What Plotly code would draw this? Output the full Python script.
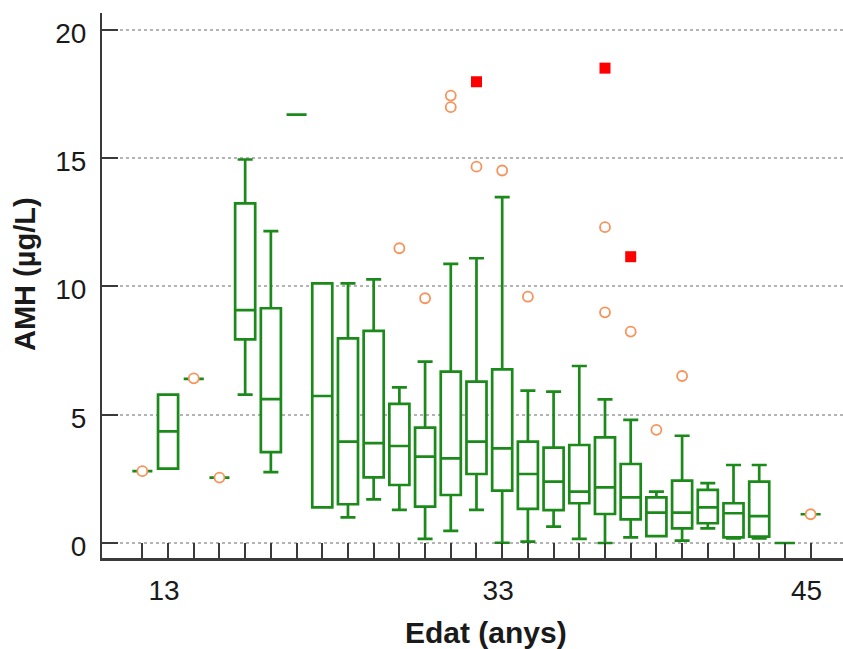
import plotly.graph_objects as go

# Category positions (one per age group) and the tick labels shown
tick_labels = ["", "13", "", "", "", "", "", "", "", "", "", "", "", "", "33",
               "", "", "", "", "", "", "", "", "", "", "", "45"]
positions = list(range(len(tick_labels)))

# Box statistics per age group (AMH, µg/L)
lower_fence = [2.8, 2.9, 6.4, 2.55, 5.78, 2.76, 16.7, 1.39, 1.0, 1.70, 1.29, 0.16, 0.47, 1.29,
               0.01, 0.05, 0.64, 0.16, 0.0, 0.22, 0.27, 0.09, 0.57, 0.18, 0.18, 0.0, 1.12]
q1 = [2.8, 2.9, 6.4, 2.55, 7.94, 3.54, 16.7, 1.39, 1.51, 2.56, 2.26, 1.42, 1.87, 2.69,
      2.04, 1.33, 1.28, 1.55, 1.13, 0.92, 0.27, 0.57, 0.77, 0.22, 0.25, 0.0, 1.12]
median = [2.8, 4.35, 6.4, 2.55, 9.08, 5.61, 16.7, 5.73, 3.95, 3.89, 3.78, 3.37, 3.30, 3.95,
          3.69, 2.69, 2.39, 2.00, 2.17, 1.78, 1.18, 1.18, 1.39, 1.16, 1.05, 0.0, 1.12]
q3 = [2.8, 5.78, 6.4, 2.55, 13.24, 9.15, 16.7, 10.12, 7.98, 8.27, 5.42, 4.50, 6.68, 6.29,
      6.77, 3.95, 3.72, 3.82, 4.12, 3.08, 1.78, 2.43, 2.07, 1.55, 2.39, 0.0, 1.12]
upper_fence = [2.8, 5.78, 6.4, 2.55, 14.95, 12.16, 16.7, 10.12, 10.12, 10.28, 6.07, 7.07, 10.88, 11.10,
               13.48, 5.94, 5.90, 6.90, 5.60, 4.80, 2.00, 4.18, 2.33, 3.04, 3.04, 0.0, 1.12]

# Outside values (orange circles) and far-out values (red squares)
outlier_x = [0, 2, 3, 26, 10, 11, 12, 12, 13, 14, 15, 18, 18, 19, 20, 21]
outlier_y = [2.8, 6.42, 2.55, 1.12, 11.49, 9.54, 17.44, 16.99, 14.67, 14.52, 9.60, 12.31, 8.99, 8.24, 4.41, 6.51]
far_x = [13, 18, 19]
far_y = [17.98, 18.51, 11.16]

GREEN = "#1b8a1b"
ORANGE = "#f7935a"
AXIS = "#3a3a3a"
TEXT = "#1a1a1a"

fig = go.Figure()
fig.add_trace(go.Box(
    x=positions, q1=q1, median=median, q3=q3,
    lowerfence=lower_fence, upperfence=upper_fence,
    boxpoints=False, width=0.78, whiskerwidth=0.75,
    line=dict(color=GREEN, width=2.7), fillcolor="white",
    showlegend=False, hoverinfo="skip",
))
fig.add_trace(go.Scatter(
    x=outlier_x, y=outlier_y, mode="markers",
    marker=dict(symbol="circle", size=10, color="white",
                line=dict(color=ORANGE, width=1.8)),
    showlegend=False, cliponaxis=False, hoverinfo="skip",
))
fig.add_trace(go.Scatter(
    x=far_x, y=far_y, mode="markers",
    marker=dict(symbol="square", size=11, color="#ff0000", line=dict(width=0)),
    showlegend=False, cliponaxis=False, hoverinfo="skip",
))

fig.update_layout(
    width=843, height=649,
    margin=dict(l=102, r=0, t=13, b=91, autoexpand=False),
    paper_bgcolor="white", plot_bgcolor="white",
    font=dict(family="Liberation Sans, Arial, sans-serif", color=TEXT),
    xaxis=dict(
        range=[-1.57, 27.26], tickmode="array", tickvals=positions, ticktext=tick_labels,
        ticks="inside", ticklen=15, tickwidth=2, tickcolor=AXIS,
        showline=True, linecolor=AXIS, linewidth=2.5,
        showgrid=False, zeroline=False, automargin=False,
        tickfont=dict(size=28, color=TEXT), ticklabelshift=-4, ticklabelstandoff=6,
    ),
    yaxis=dict(
        range=[-0.585, 20.66], tickmode="array", tickvals=[0, 5, 10, 15, 20],
        ticks="inside", ticklen=16, tickwidth=2, tickcolor=AXIS,
        showline=True, linecolor=AXIS, linewidth=2,
        showgrid=True, gridcolor="#b3b3b3", gridwidth=1.5, griddash="dot",
        zeroline=False, automargin=False,
        tickfont=dict(size=28, color=TEXT), ticklabelshift=3, ticklabelstandoff=8,
    ),
    annotations=[
        dict(text="<b>AMH (µg/L)</b>", xref="paper", yref="paper",
             x=(25 - 102) / 741, y=(558 - 274) / 545, textangle=-90,
             xanchor="center", yanchor="middle", showarrow=False,
             font=dict(size=29, color=TEXT)),
        dict(text="<b>Edat (anys)</b>", xref="paper", yref="paper",
             x=(486 - 102) / 741, y=(558 - 632) / 545,
             xanchor="center", yanchor="middle", showarrow=False,
             font=dict(size=30, color=TEXT)),
    ],
)

fig.write_html(
    "out.html",
    config={"displayModeBar": False},
    post_script="document.body.style.margin='0';document.body.style.padding='0';"
                "document.body.style.overflow='hidden';",
)
